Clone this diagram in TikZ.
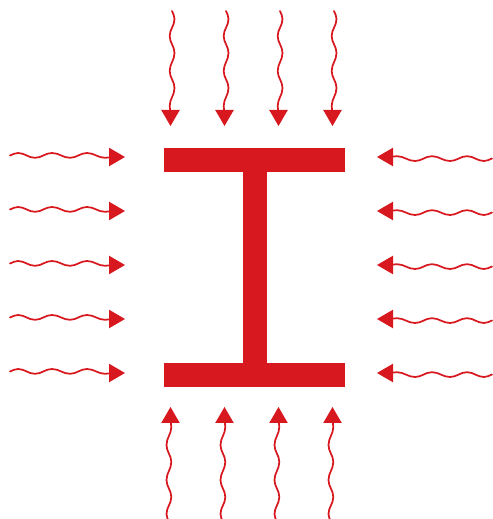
\documentclass[tikz,border=0pt]{standalone}
\definecolor{beamred}{HTML}{D7181F}
\tikzset{
  x=0.75pt,y=0.75pt,
  beam/.style={fill=beamred,draw=none},
  wave/.style={draw=beamred,line width=1.3pt,line cap=round},
  head/.style={fill=beamred,draw=none}
}
\newcommand{\wavearrow}[3]{%
  \begin{scope}[shift={(#1,519-#2)},rotate=#3]
    \coordinate (tail) at (-115,1.5);
    \coordinate (tip) at (0,0);
    \fill[head] (tip) -- (-16,9.3) -- (-16,-9.3) -- cycle;
    \draw[wave] (tail) to[out=20,in=180] (-107,4) to[out=0,in=180] (-90,-0.8)
      to[out=0,in=180] (-73,4) to[out=0,in=180] (-55,-0.8)
      to[out=0,in=180] (-38,4) to[out=0,in=180] (-20,-0.8) to[out=0,in=180] (-12,0);
  \end{scope}}
\begin{document}
\begin{tikzpicture}
\useasboundingbox (0,0) rectangle (493,519);
\fill[beam] (164,519-148) rectangle (344.5,519-172);
\fill[beam] (164,519-363) rectangle (344.5,519-387);
\fill[beam] (243,519-172) rectangle (267,519-363);
\foreach \px in {170.5,224.5,278.5,332.5}{
  \wavearrow{\px}{126}{-90}
  \wavearrow{\px}{407}{90}
}
\foreach \py in {157,211,265,319,373}{
  \wavearrow{125}{\py}{0}
  \wavearrow{377}{\py}{180}
}
\end{tikzpicture}
\end{document}
